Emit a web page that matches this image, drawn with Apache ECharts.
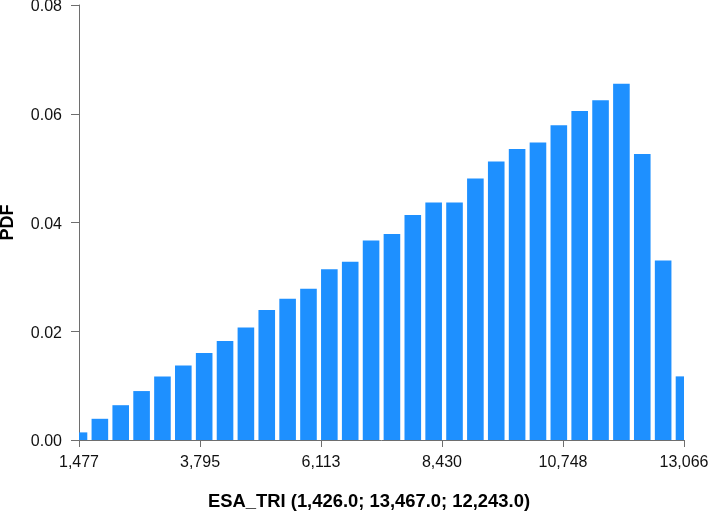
<!DOCTYPE html>
<html>
<head>
<meta charset="utf-8">
<script src="https://cdn.jsdelivr.net/npm/echarts@6/dist/echarts.min.js"></script>
<style>
    html, body { margin: 0; padding: 0; background: #fff; }
    #chart { width: 711px; height: 512px; }
</style>
</head>
<body>
<div id="chart"></div>
<script>
// bin centres (ESA_TRI), 30 bins
const binCenters = [
    1477, 1876.6, 2276.2, 2675.9, 3075.5, 3475.1, 3874.7, 4274.3, 4674.0, 5073.6,
    5473.2, 5872.8, 6272.4, 6672.1, 7071.7, 7471.3, 7870.9, 8270.5, 8670.2, 9069.8,
    9469.4, 9869.0, 10268.6, 10668.3, 11067.9, 11467.5, 11867.1, 12266.7, 12666.4, 13066
];
// PDF per bin
const pdfValues = [
    0.0014, 0.0039, 0.0064, 0.0090, 0.0117, 0.0137, 0.0160, 0.0182, 0.0207, 0.0239,
    0.0260, 0.0278, 0.0314, 0.0328, 0.0367, 0.0379, 0.0414, 0.0437, 0.0437, 0.0481,
    0.0512, 0.0535, 0.0547, 0.0579, 0.0605, 0.0625, 0.0655, 0.0526, 0.0330, 0.0117
];
// x tick labels
const xTicks = [1477, 3795, 6113, 8430, 10748, 13066];
const xTitle = 'ESA_TRI (1,426.0; 13,467.0; 12,243.0)';
const yTitle = 'PDF';

const chart = echarts.init(document.getElementById('chart'));

const axisColor = '#6e6e6e';
const font = 'Liberation Sans, Arial, sans-serif';
const barPx = 16.6;

// histogram bars, clipped to the plot area
const renderBar = (params, api) => {
    const top = api.coord([api.value(0), api.value(1)]);
    const base = api.coord([api.value(0), 0]);
    const shape = echarts.graphic.clipRectByRect(
        { x: top[0] - barPx / 2, y: top[1], width: barPx, height: base[1] - top[1] },
        {
            x: params.coordSys.x,
            y: params.coordSys.y,
            width: params.coordSys.width,
            height: params.coordSys.height
        }
    );
    return shape && { type: 'rect', shape: shape, style: { fill: '#1E90FF' } };
};

const option = {
    animation: false,
    grid: {
        left: 79,
        right: 27,
        top: 5,
        bottom: 72,
        outerBoundsMode: 'none',
        containLabel: false
    },
    xAxis: {
        type: 'value',
        min: xTicks[0],
        max: xTicks[xTicks.length - 1],
        name: xTitle,
        nameLocation: 'middle',
        nameGap: 53,
        nameTextStyle: {
            fontFamily: font, fontSize: 18.4, fontWeight: 'bold', color: '#000',
            padding: [0, 25, 0, 0]
        },
        splitLine: { show: false },
        axisLine: { show: true, lineStyle: { color: axisColor, width: 1 } },
        axisTick: { show: true, length: 7, customValues: xTicks, lineStyle: { color: axisColor } },
        axisLabel: {
            customValues: xTicks,
            margin: 15,
            fontFamily: font,
            fontSize: 16,
            color: '#111',
            formatter: (v) => Math.round(v).toLocaleString('en-US')
        }
    },
    yAxis: {
        type: 'value',
        min: 0,
        max: 0.08,
        interval: 0.02,
        name: yTitle,
        nameLocation: 'middle',
        nameGap: 62,
        nameTextStyle: { fontFamily: font, fontSize: 18, fontWeight: 'bold', color: '#000' },
        splitLine: { show: false },
        axisLine: { show: true, lineStyle: { color: axisColor, width: 1 } },
        axisTick: { show: true, length: 8, lineStyle: { color: axisColor } },
        axisLabel: {
            margin: 17,
            fontFamily: font,
            fontSize: 16,
            color: '#111',
            formatter: (v) => '{t|' + v.toFixed(2) + '}',
            rich: {
                t: { fontFamily: font, fontSize: 16, color: '#111', padding: [4, 0, 0, 0] }
            }
        }
    },
    series: [
        {
            type: 'custom',
            renderItem: renderBar,
            encode: { x: 0, y: 1 },
            data: binCenters.map((c, i) => [c, pdfValues[i]])
        }
    ]
};

chart.setOption(option);
</script>
</body>
</html>
